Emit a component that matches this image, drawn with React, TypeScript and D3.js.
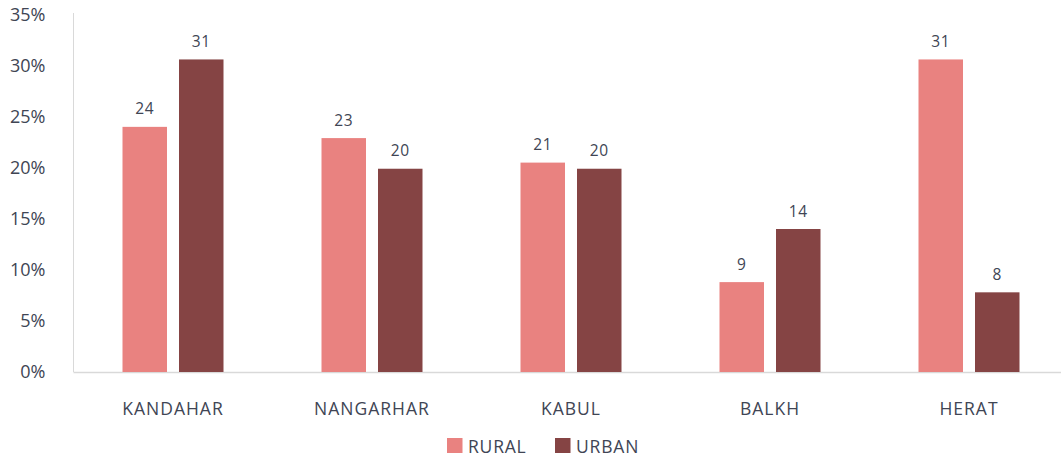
import React from "react";
import * as d3 from "d3";

const categories = ["KANDAHAR", "NANGARHAR", "KABUL", "BALKH", "HERAT"];
const rural = [24.0, 22.9, 20.5, 8.8, 30.6];
const urban = [30.6, 19.9, 19.9, 14.0, 7.8];
const ruralLabels = ["24", "23", "21", "9", "31"];
const urbanLabels = ["31", "20", "20", "14", "8"];
const yTicks = [0, 5, 10, 15, 20, 25, 30, 35];
const seriesNames = ["RURAL", "URBAN"];
const colors = ["#E98280", "#854444"];

const W = 1061;
const H = 456;
const FONT = "'Open Sans', sans-serif";
const TXT = "#404554";

export default function App() {
  const x = d3.scaleBand<string>().domain(categories).range([73.5, 1068.5]);
  const y = d3.scaleLinear().domain([0, 35]).range([372, 14.5]);
  const barW = 44.5;
  const gap = 12;
  const series = [
    { vals: rural, labels: ruralLabels },
    { vals: urban, labels: urbanLabels },
  ];
  return (
    <svg width={W} height={H} style={{ position: "absolute", left: 0, top: 0 }}>
      <rect x={0} y={0} width={W} height={H} fill="#fff" />
      {yTicks.map((t) => (
        <text key={t} x={45.5} y={y(t) + 6} textAnchor="end" fontFamily={FONT} fontSize={18} fill={TXT}>
          {t}%
        </text>
      ))}
      <line x1={73.5} x2={73.5} y1={13} y2={372} stroke="#d9d9d9" strokeWidth={1} />
      <line x1={73.5} x2={W} y1={372.5} y2={372.5} stroke="#d9d9d9" strokeWidth={1.5} />
      {categories.map((c, i) => {
        const cx = (x(c) as number) + x.bandwidth() / 2;
        return (
          <g key={c}>
            {series.map((s, j) => {
              const bx = j === 0 ? cx - gap / 2 - barW : cx + gap / 2;
              const v = s.vals[i];
              return (
                <g key={j}>
                  <rect x={bx} y={y(v)} width={barW} height={y(0) - y(v)} fill={colors[j]} />
                  <text x={bx + barW / 2} y={y(v) - 12.5} textAnchor="middle" fontFamily={FONT} fontSize={15.5} letterSpacing={0.6} fill={TXT}>
                    {s.labels[i]}
                  </text>
                </g>
              );
            })}
            <text x={cx} y={414.5} textAnchor="middle" fontFamily={FONT} fontSize={17.5} letterSpacing={1} fill={TXT}>
              {c}
            </text>
          </g>
        );
      })}
      {seriesNames.map((n, j) => {
        const lx = j === 0 ? 447 : 555;
        return (
          <g key={n}>
            <rect x={lx} y={438} width={15.5} height={15} fill={colors[j]} />
            <text x={lx + 21} y={452.5} fontFamily={FONT} fontSize={17.5} letterSpacing={0.8} fill={TXT}>
              {n}
            </text>
          </g>
        );
      })}
    </svg>
  );
}
